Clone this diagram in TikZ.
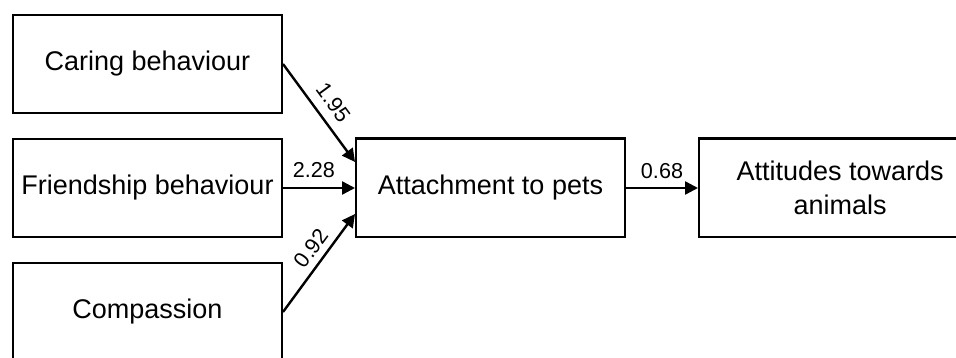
\documentclass[tikz,border=0pt]{standalone}
\usepackage{fontspec}
\setmainfont{Liberation Sans}
\usetikzlibrary{arrows.meta, positioning}

\begin{document}
\begin{tikzpicture}[x=1pt, y=-1pt, line width=2.4pt,
    varbox/.style = {draw, minimum width=268.6pt, minimum height=97.6pt, inner sep=0pt,
        align=center, font=\fontsize{27}{34}\selectfont},
    effect/.style = {-{Triangle[length=13pt, width=13pt]}},
    coef/.style = {font=\fontsize{21.6}{26}\selectfont, inner sep=0pt}
]

    \useasboundingbox (0,0) rectangle (956,358);
    \clip (0,0) rectangle (956,358);

    % predictors
    \node[varbox] (caring) at (147.5,64) {Caring behaviour};
    \node[varbox, below=24pt of caring] (friend) {Friendship behaviour};
    \node[varbox, below=24pt of friend] (compass) {Compassion};

    % mediator and outcome
    \node[varbox, minimum height=98.6pt, right=72pt of friend] (attach) {Attachment to pets};
    \node[varbox, minimum width=282pt, minimum height=98.6pt, right=72pt of attach] (attitude)
        {Attitudes towards\\animals};

    \draw[effect] (caring.east) -- node[coef, sloped, above=9pt] {1.95} ([yshift=26pt]attach.west);
    \draw[effect] (friend.east) -- node[coef, pos=0.43, above=9pt] {2.28} (attach.west);
    \draw[effect] (compass.east) -- node[coef, sloped, pos=0.56, above=6pt] {0.92} ([yshift=-26pt]attach.west);
    \draw[effect] (attach) -- node[coef, above=8pt] {0.68} (attitude);

\end{tikzpicture}
\end{document}
